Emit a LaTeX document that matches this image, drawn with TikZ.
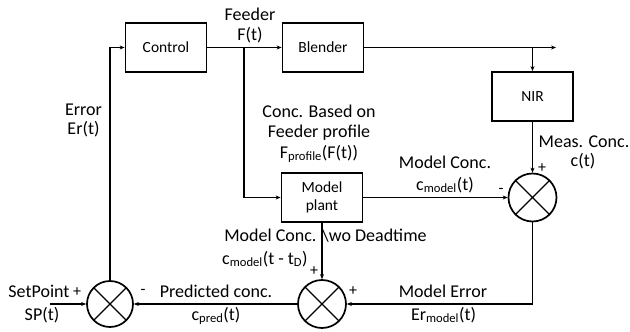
\documentclass[tikz,border=0pt]{standalone}
\usepackage{fontspec}
\setmainfont{Carlito}
\usetikzlibrary{arrows.meta}
\tikzset{
  blk/.style={draw, line width=1.8pt, minimum width=81pt, minimum height=49pt, inner sep=0pt, align=center, font=\fontsize{15.5}{18}\selectfont},
  sumj/.style={draw, circle, line width=1.7pt, minimum size=48pt, inner sep=0pt,
    path picture={\draw[line width=1.2pt] (path picture bounding box.north west) -- (path picture bounding box.south east)
      (path picture bounding box.north east) -- (path picture bounding box.south west);}},
  arr/.style={line width=1.5pt, -{Stealth[length=5pt,width=4pt]}},
  lab/.style={anchor=base, inner sep=0pt, font=\fontsize{18}{22}\selectfont},
  sgn/.style={anchor=center, inner sep=0pt, font=\fontsize{16}{18}\selectfont}
}
\newcommand{\sbs}[1]{\textsubscript{#1}}
\begin{document}
\begin{tikzpicture}[x=1pt,y=-1pt]
\useasboundingbox (0,0) rectangle (630,332);
% blocks
\node[blk] (control) at (166,47.5) {Control};
\node[blk] (blender) at (323,47.5) {Blender};
\node[blk] (nir) at (532.5,96.5) {NIR};
\node[blk] (plant) at (322,197.5) {Model\\plant};
\node[sumj] (sumR) at (532.5,197.5) {};
\node[sumj] (sumM) at (322,304) {};
\node[sumj, minimum size=46pt] (sumL) at (110,304) {};
% helper coordinates
\coordinate (out) at (556,47.5);
\coordinate (br) at (532.5,47.5);
\coordinate (fb) at (244,47.5);
\coordinate (sp) at (50,304);
% connectors
\draw[arr] (control) -- (blender);
\draw[arr] (blender) -- (out);
\draw[arr] (br) -- (nir);
\draw[arr] (nir) -- (sumR);
\draw[arr] (fb) |- (plant);
\draw[arr] (plant) -- (sumR);
\draw[arr] (plant) -- (sumM);
\draw[arr] (sumR.south) |- (sumM.east);
\draw[arr] (sumM) -- (sumL);
\draw[arr] (sp) -- (sumL);
\draw[arr] (sumL.north) |- (control.west);
% labels
\node[lab] (l1) at (250,20) {Feeder};
\node[lab] (l2) at (250,40) {F(t)};
\node[lab] (l3) at (83.5,115) {Error};
\node[lab] (l4) at (83.5,134) {Er(t)};
\node[lab] (l5) at (319,117) {Conc. Based on};
\node[lab] (l6) at (319,137) {Feeder profile};
\node[lab] (l7) at (319,158) {F\sbs{profile}(F(t))};
\node[lab] (l8) at (445,168) {Model Conc.};
\node[lab] (l9) at (445,190) {c\sbs{model}(t)};
\node[lab] (l10) at (584,147) {Meas. Conc.};
\node[lab] (l11) at (583,166) {c(t)};
\node[lab] (l12) at (325.5,241) {Model Conc. \textbackslash wo Deadtime};
\node[lab, anchor=base west] (l13) at (222,264) {c\sbs{model}(t - t\sbs{D})};
\node[lab] (l14) at (216,297) {Predicted conc.};
\node[lab] (l15) at (216,320) {c\sbs{pred}(t)};
\node[lab] (l16) at (443,297) {Model Error};
\node[lab] (l17) at (443.5,320) {Er\sbs{model}(t)};
\node[lab] (l18) at (39,297) {SetPoint};
\node[lab] (l19) at (42,320) {SP(t)};
% signs
\node[sgn] (s1) at (77,292) {+};
\node[sgn] (s2) at (143,292) {-};
\node[sgn] (s3) at (353,291) {+};
\node[sgn] (s4) at (314,271) {+};
\node[sgn] (s5) at (501,191) {-};
\node[sgn] (s6) at (542,168) {+};
\end{tikzpicture}
\end{document}
